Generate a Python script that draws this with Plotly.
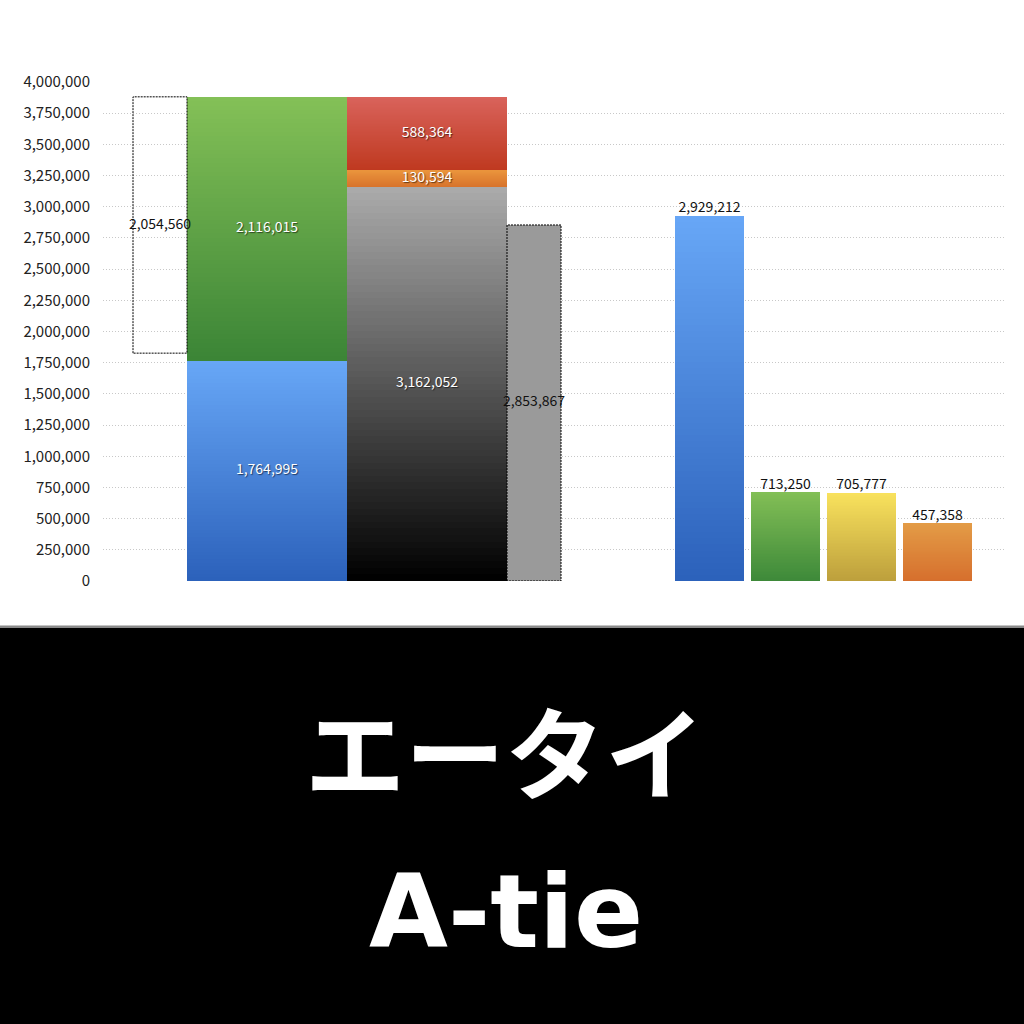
import plotly.graph_objects as go

# ---------------- data ----------------
left_stack_names = ["blue", "green"]
left_stack_values = [1764995, 2116015]
mid_stack_names = ["gray", "orange", "red"]
mid_stack_values = [3162052, 130594, 588364]
gap_value = 2054560          # dotted white bar (floating, top aligned with stack total)
remaining_value = 2853867    # dotted gray bar
right_names = ["blue", "green", "yellow", "orange"]
right_values = [2929212, 713250, 705777, 457358]
tick_values = list(range(0, 4000001, 250000))

# ---------------- layout / styles ----------------
POS = {
    "gap": (160, 54),
    "left": (267, 160),
    "mid": (427, 160),
    "remain": (534, 54),
    "right": [(709.5, 69), (785.5, 69), (861.5, 69), (937.5, 69)],
}
GRAD = {  # (bottom colour, top colour)
    "blue": ("#2c61bb", "#67a7f6"),
    "green": ("#3b8536", "#84c057"),
    "gray": ("#000000", "#ababab"),
    "orange": ("#d8742c", "#ea943c"),
    "red": ("#bf3920", "#d9635b"),
    "rgreen": ("#3d8939", "#83bf56"),
    "yellow": ("#bd9f3c", "#f8e25d"),
    "rorange": ("#d66f2d", "#e39b46"),
}
N = 60
LABEL_FONT = "Noto Sans CJK JP"


def hex2rgb(h):
    h = h.lstrip("#")
    return tuple(int(h[i:i + 2], 16) for i in (0, 2, 4))


def mix(c0, c1, t):
    a, b = hex2rgb(c0), hex2rgb(c1)
    return "rgb(%d,%d,%d)" % tuple(round(a[k] + (b[k] - a[k]) * t) for k in range(3))


fig = go.Figure()


def grad_bar(xc, w, base, value, colors):
    c0, c1 = colors
    step = value / N
    bases = [base + i * step for i in range(N)]
    heights = [value - i * step for i in range(N)]
    cols = [mix(c0, c1, (i + 0.5) / N) for i in range(N)]
    fig.add_trace(go.Bar(
        x=[xc] * N, y=heights, base=bases, width=[w] * N,
        marker=dict(color=cols, line=dict(width=0)),
        hoverinfo="skip", showlegend=False,
    ))


def label(xc, y, text, color, pos="middle center", shadow=False):
    fig.add_trace(go.Scatter(
        x=[xc], y=[y], mode="text", text=[text], textposition=pos,
        textfont=dict(family=LABEL_FONT, size=14, color=color,
                      shadow="1px 1px 1px rgba(0,0,0,0.55)" if shadow else "none"),
        cliponaxis=False, hoverinfo="skip", showlegend=False,
    ))


def dotted_box(xc, w, b0, b1):
    x0, x1 = xc - w / 2, xc + w / 2
    fig.add_trace(go.Scatter(
        x=[x0, x0, x1, x1, x0], y=[b0, b1, b1, b0, b0], mode="lines",
        line=dict(color="#000000", width=1, dash="2px,1px"),
        hoverinfo="skip", showlegend=False, cliponaxis=False,
    ))


total = sum(left_stack_values)

xc, w = POS["left"]
b = 0
for name, v in zip(left_stack_names, left_stack_values):
    grad_bar(xc, w, b, v, GRAD[name])
    b += v

xc, w = POS["mid"]
b = 0
for name, v in zip(mid_stack_names, mid_stack_values):
    grad_bar(xc, w, b, v, GRAD[name])
    b += v

xc, w = POS["remain"]
fig.add_trace(go.Bar(x=[xc], y=[remaining_value], base=[0], width=[w],
                     marker=dict(color="#9a9a9a", line=dict(width=0)),
                     hoverinfo="skip", showlegend=False))
dotted_box(xc, w, 0, remaining_value)

xc, w = POS["gap"]
dotted_box(xc, w, total - gap_value, total)

rkeys = ["blue", "rgreen", "yellow", "rorange"]
for (xc, w), v, k in zip(POS["right"], right_values, rkeys):
    grad_bar(xc, w, 0, v, GRAD[k])

xc, _ = POS["left"]
b = 0
for v in left_stack_values:
    label(xc, b + v / 2, f"{v:,}", "white", shadow=True)
    b += v
xc, _ = POS["mid"]
b = 0
for v in mid_stack_values:
    label(xc, b + v / 2, f"{v:,}", "white", shadow=True)
    b += v
label(POS["gap"][0], total - gap_value / 2, f"{gap_value:,}", "#111111")
label(POS["remain"][0], remaining_value / 2, f"{remaining_value:,}", "#111111")
for (xc, w), v in zip(POS["right"], right_values):
    label(xc, v, f"{v:,}", "#111111", pos="top center")

# bottom black banner
fig.add_shape(type="rect", xref="paper", yref="paper", x0=-0.2, x1=1.1,
              y0=-0.0915, y1=-1.0, fillcolor="#000000",
              line=dict(color="#8a8a8a", width=2.5), layer="above")
fig.add_annotation(xref="paper", yref="paper", x=0.4457, y=-0.484,
                   text="<b>エータイ</b>", showarrow=False,
                   font=dict(family="Noto Sans CJK JP", size=100, color="white"))
fig.add_annotation(xref="paper", yref="paper", x=0.4468, y=-0.785,
                   text="<b>A-tie</b>", showarrow=False,
                   font=dict(family="DejaVu Sans", size=102, color="white"))

fig.update_layout(
    width=1024, height=1024,
    margin=dict(l=103, r=18, t=82, b=443),
    paper_bgcolor="white", plot_bgcolor="white",
    barmode="overlay", bargap=0, showlegend=False, hovermode=False,
    xaxis=dict(visible=False, range=[103, 1006], fixedrange=True),
    yaxis=dict(range=[0, 4000000], tickvals=tick_values, tickformat=",",
               showgrid=True, gridcolor="#c8c8c8", griddash="1px,2px", gridwidth=1,
               zeroline=False, showline=False, ticks="", ticklabelstandoff=12,
               fixedrange=True,
               tickfont=dict(family=LABEL_FONT, size=15, color="#222222")),
)

fig.write_html("out.html", config={"displayModeBar": False},
               post_script="document.body.style.margin='0';")
